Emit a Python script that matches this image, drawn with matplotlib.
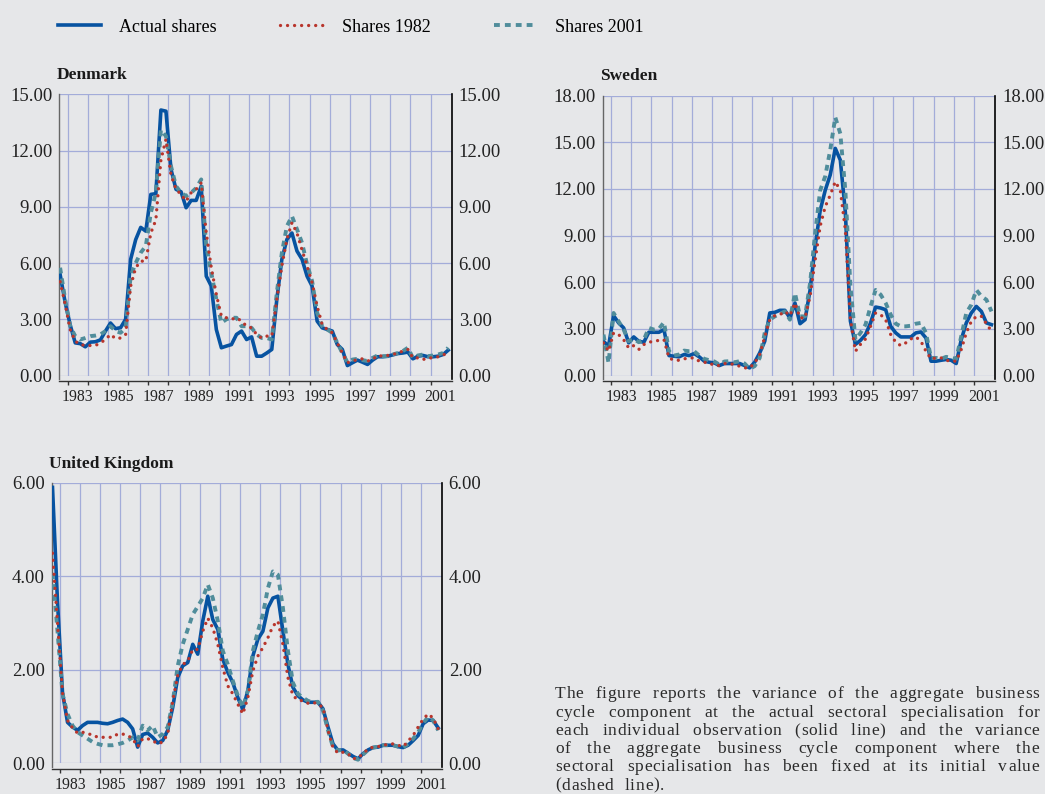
import matplotlib
matplotlib.use('Agg')
import matplotlib.pyplot as plt
from matplotlib.lines import Line2D
from matplotlib.font_manager import FontProperties
import numpy as np
import pandas as pd

plt.rcParams['font.family'] = ['Liberation Serif', 'DejaVu Serif']

BG = '#e6e7e9'
GRID = '#a3acd9'
BLUE = '#0753a1'
RED = '#b8352c'
TEAL = '#508d9b'

# quarterly observations, 1982Q3 - 2001Q4
quarters = pd.period_range('1982Q3', '2001Q4', freq='Q')
x = np.asarray(quarters.year + (quarters.quarter - 1) / 4 + 0.125, dtype=float)

dk_actual = [5.39, 3.9, 2.7, 1.74, 1.7, 1.53, 1.78, 1.8, 1.9, 2.37,
             2.8, 2.5, 2.55, 3.0, 6.2, 7.25, 7.9, 7.7, 9.66, 9.7,
             14.16, 14.1, 11.0, 9.93, 9.8, 8.95, 9.34, 9.34, 10.1, 5.3,
             4.77, 2.45, 1.48, 1.57, 1.65, 2.19, 2.37, 1.92, 2.06, 1.03,
             1.03, 1.2, 1.39, 4.06, 6.2, 7.26, 7.6, 6.64, 6.2, 5.3,
             4.77, 2.9, 2.54, 2.46, 2.37, 1.65, 1.39, 0.53, 0.68, 0.82,
             0.71, 0.59, 0.82, 1.0, 1.0, 1.03, 1.1, 1.17, 1.2, 1.25,
             0.89, 1.03, 1.07, 1.0, 1.0, 1.03, 1.12, 1.35]
dk_1982 = [5.0, 3.8, 2.45, 1.83, 1.65, 1.6, 1.6, 1.6, 1.74, 1.92,
           2.19, 1.97, 2.0, 2.19, 4.77, 5.75, 6.1, 6.1, 7.6, 8.3,
           11.5, 12.6, 10.7, 9.93, 9.66, 9.3, 9.75, 9.93, 10.28, 7.6,
           5.75, 4.32, 3.17, 3.08, 3.0, 3.08, 2.9, 2.63, 2.54, 2.19,
           2.0, 2.1, 2.1, 4.06, 5.84, 7.26, 8.15, 7.6, 6.7, 5.84,
           4.95, 3.7, 2.72, 2.45, 2.28, 1.74, 1.2, 0.68, 0.77, 0.85,
           0.89, 0.77, 0.85, 1.07, 1.03, 1.07, 1.12, 1.2, 1.3, 1.39,
           0.94, 0.94, 0.85, 0.94, 0.94, 1.0, 1.07, 1.3]
dk_2001 = [5.75, 4.06, 2.63, 2.1, 1.92, 2.0, 2.1, 2.13, 2.19, 2.37,
           2.63, 2.37, 2.28, 2.54, 5.3, 6.0, 6.55, 6.9, 8.68, 9.75,
           13.1, 12.77, 11.17, 10.1, 9.75, 9.57, 9.75, 10.0, 10.46, 6.9,
           5.48, 4.06, 2.81, 3.0, 3.08, 3.08, 2.63, 2.63, 2.54, 2.19,
           2.0, 2.0, 1.92, 4.41, 6.55, 7.97, 8.5, 7.8, 7.08, 5.93,
           5.04, 3.35, 2.63, 2.45, 2.28, 1.74, 1.2, 0.71, 0.85, 0.89,
           0.82, 0.77, 0.94, 1.07, 1.03, 1.03, 1.12, 1.2, 1.3, 1.48,
           0.94, 1.07, 1.12, 1.03, 1.07, 1.12, 1.2, 1.48]

se_actual = [2.2, 1.88, 3.85, 3.38, 3.06, 2.1, 2.48, 2.2, 2.14, 2.78,
             2.78, 2.78, 2.95, 1.28, 1.24, 1.2, 1.35, 1.28, 1.41, 1.2,
             0.92, 0.85, 0.81, 0.64, 0.77, 0.77, 0.77, 0.77, 0.64, 0.49,
             0.85, 1.45, 2.2, 4.02, 4.06, 4.19, 4.19, 3.7, 4.66, 3.33,
             3.59, 5.5, 8.3, 10.6, 11.9, 12.9, 14.6, 13.85, 10.5, 3.5,
             2.0, 2.26, 2.63, 3.38, 4.4, 4.34, 4.23, 3.16, 2.74, 2.48,
             2.48, 2.48, 2.74, 2.8, 2.41, 0.92, 0.92, 0.98, 1.03, 0.98,
             0.77, 2.3, 3.38, 4.02, 4.44, 4.12, 3.38, 3.27]
se_1982 = [2.1, 1.56, 2.74, 2.63, 2.3, 1.77, 1.92, 1.67, 1.99, 2.14,
           2.2, 2.26, 2.3, 1.13, 0.98, 0.98, 1.07, 1.13, 1.13, 0.92,
           0.85, 0.81, 0.64, 0.64, 0.77, 0.77, 0.7, 0.6, 0.49, 0.49,
           0.81, 1.35, 2.48, 3.59, 3.85, 3.91, 4.12, 3.85, 4.66, 3.7,
           3.7, 5.1, 7.4, 9.6, 10.85, 11.6, 12.46, 11.9, 9.36, 3.6,
           1.56, 2.0, 2.35, 3.16, 4.02, 3.91, 3.59, 2.63, 2.14, 1.92,
           2.1, 2.35, 2.48, 2.2, 1.56, 1.07, 1.13, 1.13, 0.98, 0.92,
           0.92, 1.67, 2.74, 3.48, 3.8, 3.8, 3.33, 2.84]
se_2001 = [2.63, 0.81, 4.02, 3.48, 2.95, 2.2, 2.35, 2.14, 2.3, 3.06,
           2.95, 3.0, 3.42, 1.56, 1.28, 1.35, 1.6, 1.56, 1.56, 1.28,
           1.07, 0.98, 0.9, 0.7, 0.9, 0.92, 0.85, 0.92, 0.77, 0.43,
           0.6, 1.13, 2.74, 3.59, 3.8, 3.97, 4.12, 3.59, 5.3, 3.8,
           3.8, 5.94, 9.15, 11.9, 12.8, 14.5, 16.6, 15.55, 11.9, 5.8,
           2.3, 2.74, 3.27, 4.44, 5.5, 5.2, 4.66, 3.91, 3.33, 3.16,
           3.16, 3.2, 3.33, 3.38, 2.74, 1.13, 1.13, 1.07, 1.2, 1.13,
           1.07, 2.52, 4.02, 4.55, 5.5, 5.09, 4.87, 4.12]

uk_actual = [5.9, 3.45, 1.5, 0.87, 0.77, 0.7, 0.8, 0.87, 0.87, 0.87,
             0.85, 0.84, 0.87, 0.91, 0.94, 0.87, 0.73, 0.34, 0.61, 0.64,
             0.55, 0.43, 0.48, 0.7, 1.19, 1.83, 2.08, 2.15, 2.54, 2.33,
             3.04, 3.57, 3.07, 2.86, 2.22, 1.94, 1.72, 1.4, 1.15, 1.55,
             2.29, 2.65, 2.82, 3.32, 3.53, 3.57, 2.82, 2.11, 1.62, 1.44,
             1.35, 1.3, 1.3, 1.3, 1.16, 0.77, 0.41, 0.27, 0.28, 0.21,
             0.14, 0.09, 0.2, 0.28, 0.33, 0.34, 0.38, 0.38, 0.38, 0.35,
             0.33, 0.38, 0.48, 0.59, 0.84, 0.92, 0.91, 0.75]
uk_1982 = [4.49, 3.0, 1.5, 0.91, 0.75, 0.64, 0.66, 0.62, 0.61, 0.55,
           0.55, 0.55, 0.55, 0.62, 0.62, 0.59, 0.52, 0.35, 0.52, 0.52,
           0.48, 0.41, 0.45, 0.62, 1.33, 1.87, 2.11, 2.18, 2.43, 2.43,
           2.82, 3.1, 2.89, 2.54, 2.04, 1.65, 1.48, 1.26, 1.05, 1.4,
           1.97, 2.29, 2.47, 2.68, 2.93, 3.04, 2.54, 1.83, 1.44, 1.35,
           1.33, 1.28, 1.3, 1.26, 1.19, 0.7, 0.33, 0.21, 0.23, 0.2,
           0.09, 0.11, 0.2, 0.3, 0.34, 0.35, 0.38, 0.4, 0.41, 0.38,
           0.35, 0.47, 0.59, 0.77, 0.94, 1.05, 0.96, 0.73]
uk_2001 = [4.06, 2.82, 1.48, 1.05, 0.8, 0.66, 0.59, 0.52, 0.45, 0.41,
           0.38, 0.38, 0.38, 0.4, 0.43, 0.48, 0.55, 0.48, 0.8, 0.7,
           0.8, 0.55, 0.62, 0.77, 1.3, 2.08, 2.54, 2.86, 3.18, 3.35,
           3.53, 3.82, 3.53, 3.04, 2.4, 2.11, 1.76, 1.44, 1.19, 1.55,
           2.4, 2.82, 3.18, 3.74, 4.1, 4.03, 3.32, 2.4, 1.72, 1.48,
           1.4, 1.33, 1.3, 1.31, 1.12, 0.7, 0.34, 0.27, 0.28, 0.2,
           0.11, 0.07, 0.18, 0.28, 0.33, 0.35, 0.38, 0.38, 0.38, 0.35,
           0.33, 0.41, 0.52, 0.66, 0.85, 0.99, 0.91, 0.7]

legend_labels = ['Actual shares', 'Shares 1982', 'Shares 2001']
year_labels = [str(y) for y in range(1983, 2002, 2)]

note_lines = [
    'The figure reports the variance of the aggregate business',
    'cycle component at the actual sectoral specialisation for',
    'each individual observation (solid line) and the variance',
    'of the aggregate business cycle component where the',
    'sectoral specialisation has been fixed at its initial value',
    '(dashed  line).',
]

W, H = 1045, 794
fig = plt.figure(figsize=(W / 100, H / 100), dpi=100, facecolor=BG)

# name, series, y max, y step, axes box in pixels (left, top, right, bottom)
panels = [
    ('Denmark', dk_actual, dk_1982, dk_2001, 15, 3, (59.3, 94.3, 451.7, 375.5)),
    ('Sweden', se_actual, se_1982, se_2001, 18, 3, (602.7, 95.5, 995.0, 375.5)),
    ('United Kingdom', uk_actual, uk_1982, uk_2001, 6, 2, (51.7, 482.7, 441.7, 763.0)),
]

line_kw = [
    dict(color=BLUE, lw=2.6, zorder=3),
    dict(color=RED, lw=2.4, dashes=(0.01, 2.1), dash_capstyle='round', zorder=5),
    dict(color=TEAL, lw=2.8, dashes=(1.5, 1.3), zorder=4),
]

for name, actual, s1982, s2001, ymax, step, (l, t, r, b) in panels:
    ax = fig.add_axes([l / W, 1 - b / H, (r - l) / W, (b - t) / H])
    ax.set_facecolor(BG)
    ax.plot(x, actual, **line_kw[0])
    ax.plot(x, s2001, **line_kw[2])
    ax.plot(x, s1982, **line_kw[1])

    ax.set_xlim(1982.585, 2002.05)
    ax.set_ylim(0, ymax)
    ax.set_yticks(np.arange(0, ymax + 0.01, step))
    ax.yaxis.set_major_formatter('{x:.2f}')
    ax.tick_params(axis='y', length=0, labelsize=13.5, pad=5,
                   labelleft=True, labelright=True, colors='#222222')

    ax.set_xticks(np.arange(1983, 2002, 2) + 0.5)
    ax.set_xticklabels(year_labels)
    ax.set_xticks(np.arange(1983, 2002), minor=True)
    ax.tick_params(axis='x', which='major', length=0, labelsize=11.3, pad=6, colors='#222222')
    ax.tick_params(axis='x', which='minor', length=3, width=1, color='#333333', direction='out')

    ax.grid(True, which='minor', axis='x', color=GRID, lw=0.9)
    ax.grid(True, which='major', axis='y', color=GRID, lw=0.9)
    ax.set_axisbelow(True)

    ax.spines['top'].set_visible(False)
    ax.spines['bottom'].set_position(('outward', 4))
    ax.spines['bottom'].set_color('#333333')
    ax.spines['bottom'].set_linewidth(1.0)
    ax.spines['left'].set_color('#666666')
    ax.spines['left'].set_linewidth(1.0)
    ax.spines['right'].set_color('black')
    ax.spines['right'].set_linewidth(1.2)
    ax.spines['left'].set_bounds(-ymax * 0.014, ymax)
    ax.spines['right'].set_bounds(-ymax * 0.014, ymax)

    ax.annotate(name, xy=(0, 1), xycoords='axes fraction', xytext=(-2.2, 13.8),
                textcoords='offset points', ha='left', va='center',
                fontsize=12.5, fontweight='bold', color='#1a1a1a')

handles = [Line2D([], [], **{k: v for k, v in kw.items() if k != 'zorder'}) for kw in line_kw]
fig.legend(handles, legend_labels, loc='center left', bbox_to_anchor=(58 / W, 1 - 27 / H),
           ncol=3, frameon=False, fontsize=13, handlelength=2.4, handletextpad=1.0,
           columnspacing=3.5, borderpad=0, borderaxespad=0)


def place_note(lines, left, right, first_base, step, size, track):
    # justified block of text, laid out character by character
    rend = fig.canvas.get_renderer()
    fp = FontProperties(family='Liberation Serif', size=size)
    cache = {}

    def width(s):
        return rend.get_text_width_height_descent(s, fp, ismath=False)[0]

    def adv(ch):
        if ch not in cache:
            cache[ch] = width('n' + ch + 'n') - width('nn')
        return cache[ch]

    for k, line in enumerate(lines):
        base = first_base + k * step
        last = k == len(lines) - 1
        if last:
            pos = left
            for ch in line:
                if ch != ' ':
                    fig.text(pos / W, 1 - base / H, ch, fontproperties=fp,
                             ha='left', va='baseline', color='#2a2a2a')
                pos += adv(ch) + track
            continue
        words = line.split()
        wlen = [sum(adv(c) + track for c in w) - track for w in words]
        gap = (right - left - sum(wlen)) / (len(words) - 1)
        pos = left
        for w, wl in zip(words, wlen):
            p = pos
            for ch in w:
                fig.text(p / W, 1 - base / H, ch, fontproperties=fp,
                         ha='left', va='baseline', color='#2a2a2a')
                p += adv(ch) + track
            pos += wl + gap


place_note(note_lines, 555, 1039, 698.5, 18.2, 12.5, 0.7)

fig.savefig('out.png', dpi=100, facecolor=BG)
